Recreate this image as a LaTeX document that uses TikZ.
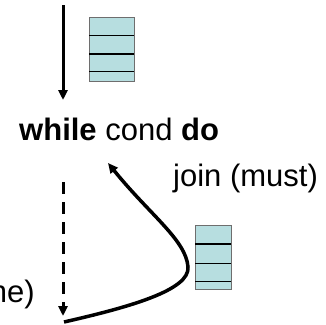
\documentclass[tikz,border=0pt]{standalone}
\usepackage{fontspec}
\setmainfont{Liberation Sans}
\usetikzlibrary{arrows.meta}
\definecolor{stackfill}{RGB}{183,222,224}
\definecolor{stackedge}{RGB}{110,110,110}
\begin{document}
\begin{tikzpicture}[x=1pt,y=-1pt,
  lbl/.style={inner sep=0pt, font=\fontsize{31}{36}\selectfont},
  flow/.style={line width=3pt, -{Triangle[length=10pt,width=9pt]}},
  stackbox/.style={draw=stackedge, fill=stackfill, line width=1pt},
  sep/.style={draw=black, line width=1pt},
  septhick/.style={draw=black, line width=2.2pt}]
\useasboundingbox (0,0) rectangle (326,324);
\clip (0,0) rectangle (326,324);
% top flow arrow
\coordinate (topstart) at (63,5);
\coordinate (topend) at (63,100);
\draw[flow] (topstart) -- (topend);
% top stack
\path[stackbox] (89,17) rectangle (134,81);
\draw[sep] (89,35) -- (134,35);
\draw[septhick] (89,54) -- (134,54);
\draw[sep] (89,71) -- (134,71);
% label
\node[lbl, anchor=base west] (loop) at (19,140) {\textbf{while} cond \textbf{do}};
% dashed arrow
\coordinate (dashstart) at (63,182);
\coordinate (dashend) at (63,316);
\draw[flow, dash pattern=on 12pt off 8pt] (dashstart) -- (dashend);
% join curve
\coordinate (cstart) at (64,322);
\coordinate (cright) at (188,267);
\coordinate (cend) at (108,163);
\draw[flow, line width=3.5pt] (cstart) .. controls (130,307) and (190,290) .. (cright)
   .. controls (186,240) and (150,215) .. (cend);
% bottom stack
\path[stackbox] (195,225) rectangle (231,289);
\draw[septhick] (195,244) -- (231,244);
\draw[sep] (195,263) -- (231,263);
\draw[sep] (195,281) -- (231,281);
% labels
\node[lbl, anchor=base west] (join) at (173,186) {join (must)};
\node[lbl, anchor=base east] (none) at (35,302) {ne)};
\end{tikzpicture}
\end{document}
